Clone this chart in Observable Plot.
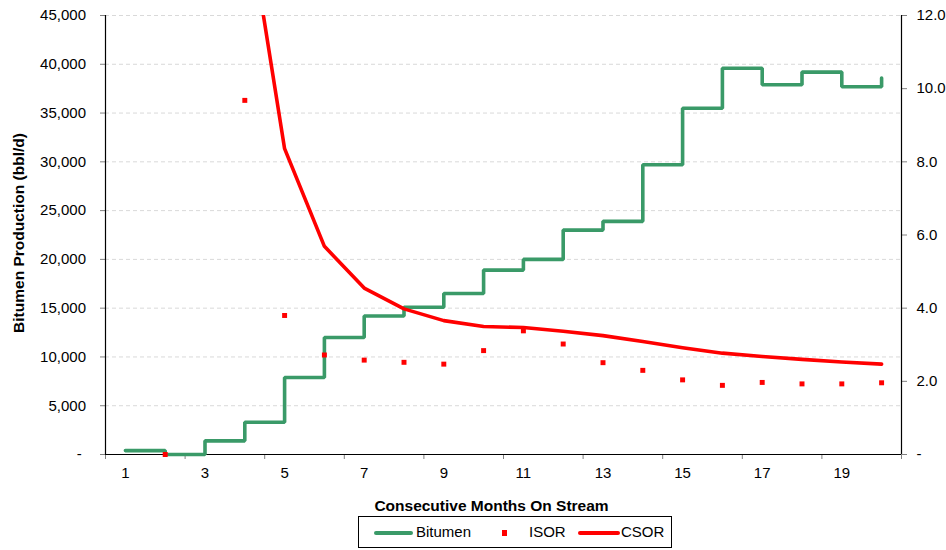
<!DOCTYPE html>
<html>
<head>
<meta charset="utf-8">
<script src="https://cdn.jsdelivr.net/npm/d3@7"></script>
<script src="https://cdn.jsdelivr.net/npm/@observablehq/plot@0.6"></script>
<style>
  body { margin: 0; background: #fff; font-family: "Liberation Sans", Arial, sans-serif; }
  #chart svg { display: block; }
  #legend { position: relative; margin-left: 358px; margin-top: 4px; width: 312px; height: 30px;
            border: 1px solid #000; font: 15px "Liberation Sans", Arial, sans-serif; color: #000; }
  #legend .sw { position: absolute; }
  #legend .lb { position: absolute; top: 6px; line-height: 18px; }
</style>
</head>
<body>
<div id="chart"></div>
<div id="legend">
  <div class="sw" style="left:15px; top:14px; width:39px; height:4px; background:#3a9a68; border-radius:2px;"></div>
  <div class="lb" style="left:57px;">Bitumen</div>
  <div class="sw" style="left:143px; top:13px; width:5px; height:6px; background:#ff0000;"></div>
  <div class="lb" style="left:170px;">ISOR</div>
  <div class="sw" style="left:219px; top:14px; width:42px; height:4px; background:#ff0000; border-radius:2px;"></div>
  <div class="lb" style="left:262px;">CSOR</div>
</div>
<script>
const months = d3.range(1, 21);
const bitumen = [400, 0, 1400, 3300, 7900, 12000, 14200, 15100, 16500, 18900,
                 20000, 23000, 23900, 29700, 35500, 39600, 37900, 39200, 37700, 38600];
const isor = [null, 0, null, 9.68, 3.80, 2.72, 2.58, 2.52, 2.47, 2.84,
              3.38, 3.02, 2.51, 2.30, 2.04, 1.89, 1.97, 1.93, 1.93, 1.96];
const csor = [null, null, null, 15.2, 8.36, 5.69, 4.55, 3.98, 3.66, 3.50,
              3.47, 3.37, 3.25, 3.09, 2.92, 2.77, 2.68, 2.60, 2.53, 2.47];
const leftTicks = [0, 5000, 10000, 15000, 20000, 25000, 30000, 35000, 40000, 45000];
const rightTicks = [0, 2, 4, 6, 8, 10, 12];
const xLabels = [1, 3, 5, 7, 9, 11, 13, 15, 17, 19];
const xTickMarks = [0.5, 2.5, 4.5, 6.5, 8.5, 10.5, 12.5, 14.5, 16.5, 18.5, 20.5];

const ratio = 45000 / 12; // secondary axis mapping
const rows = months.map((m, i) => ({
  month: m,
  bitumen: bitumen[i],
  isor: isor[i] == null ? null : isor[i] * ratio,
  csor: csor[i] == null ? null : csor[i] * ratio
}));

const fmt = d3.format(",");
const chart = Plot.plot({
  width: 946,
  height: 512,
  marginLeft: 105,
  marginRight: 45,
  marginTop: 15,
  marginBottom: 58,
  style: { fontFamily: '"Liberation Sans", Arial, sans-serif', fontSize: "15px", color: "#000", background: "#fff", overflow: "visible" },
  x: { domain: [0.5, 20.5] },
  y: { domain: [0, 45000] },
  marks: [
    Plot.gridY(leftTicks.filter(d => d > 0), { stroke: "#d9d9d9", strokeOpacity: 1, strokeDasharray: "4,3" }),
    Plot.axisY(leftTicks, { anchor: "left", tickSize: 5, tickPadding: 14.5, stroke: "#808080", fill: "#000",
      tickFormat: d => d === 0 ? "-\u00a0" : fmt(d), label: null, fontSize: 15 }),
    Plot.axisY(rightTicks.map(v => v * ratio), { anchor: "right", tickSize: 5, tickPadding: 10, stroke: "#808080", fill: "#000",
      tickFormat: d => d === 0 ? "-" : (d / ratio).toFixed(1), label: null, fontSize: 15 }),
    Plot.axisX(xTickMarks, { anchor: "bottom", tickSize: 5, stroke: "#808080", tickFormat: () => "", label: null }),
    Plot.axisX(xLabels, { anchor: "bottom", tickSize: 0, tickPadding: 13, fill: "#000", label: null, fontSize: 15 }),
    Plot.ruleX([0.5, 20.5], { stroke: "#000", strokeWidth: 1.2 }),
    Plot.ruleY([0], { stroke: "#000", strokeWidth: 1.2 }),
    Plot.line(rows, { x: "month", y: "bitumen", curve: "step-after", stroke: "#3a9a68", strokeWidth: 3.6,
      strokeLinejoin: "miter", strokeLinecap: "round" }),
    Plot.line(rows, { x: "month", y: "csor", stroke: "#ff0000", strokeWidth: 3.6, clip: true,
      strokeLinejoin: "round", strokeLinecap: "round" }),
    Plot.dot(rows.filter(d => d.isor != null), { x: "month", y: "isor", symbol: "square", r: 2.8, fill: "#ff0000", stroke: null }),
    Plot.text(["Bitumen Production (bbl/d)"], { frameAnchor: "left", dx: -86, dy: -2, rotate: -90,
      fontWeight: "bold", fontSize: 15.5, fill: "#000", textAnchor: "middle", lineAnchor: "middle" }),
    Plot.text(["Consecutive Months On Stream"], { frameAnchor: "bottom", dx: -12, dy: 52, fontWeight: "bold",
      fontSize: 15.5, fill: "#000", textAnchor: "middle", lineAnchor: "middle" })
  ]
});
document.getElementById("chart").appendChild(chart);
</script>
</body>
</html>
